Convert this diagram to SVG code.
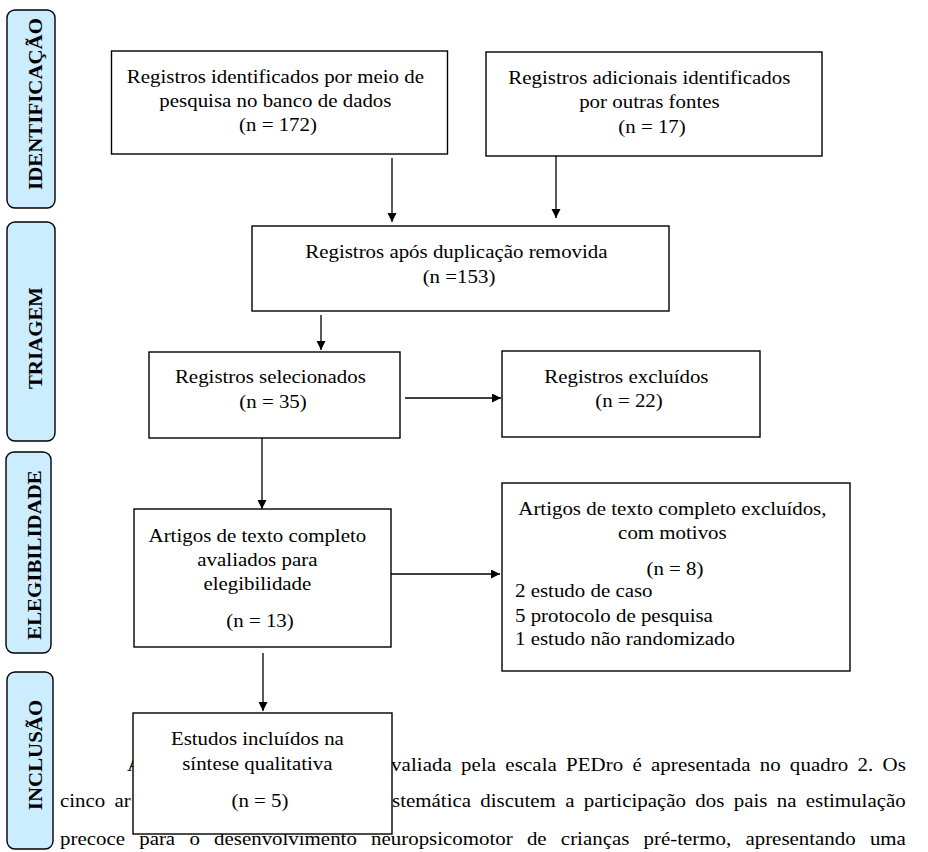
<svg xmlns="http://www.w3.org/2000/svg" width="928" height="852" viewBox="0 0 928 852">
<style>
  .box { fill: #ffffff; stroke: #000000; stroke-width: 1.4; }
  .lbl { fill: #CCECFF; stroke: #000000; stroke-width: 1.4; }
  .t { font-family: "Liberation Serif", "Times New Roman", serif; font-size: 19px; fill: #000000; }
  .c { text-anchor: middle; }
  .b { font-weight: bold; text-anchor: middle; }
  .edge { fill: none; stroke: #000000; stroke-width: 1.3; marker-end: url(#ah); }
</style>
<defs>
  <marker id="ah" markerUnits="userSpaceOnUse" markerWidth="10" markerHeight="10" refX="9" refY="4.5" orient="auto">
    <path d="M0,0 L9,4.5 L0,9 Z" fill="#000000"/>
  </marker>
</defs>
<rect width="928" height="852" fill="#ffffff"/>

<g id="labels">
  <g id="label-identificacao">
    <rect class="lbl" x="7" y="10" width="48" height="198" rx="8"/>
    <text class="t b" transform="translate(42 104) rotate(-90) scale(1.1 1)" x="0" y="0">IDENTIFICAÇÃO</text>
  </g>
  <g id="label-triagem">
    <rect class="lbl" x="7" y="222" width="48" height="219" rx="8"/>
    <text class="t b" transform="translate(42 338) rotate(-90) scale(1.1 1)" x="0" y="0">TRIAGEM</text>
  </g>
  <g id="label-elegibilidade">
    <rect class="lbl" x="6" y="452" width="45" height="201" rx="8"/>
    <text class="t b" transform="translate(41 555) rotate(-90) scale(1.1 1)" x="0" y="0">ELEGIBILIDADE</text>
  </g>
  <g id="label-inclusao">
    <rect class="lbl" x="7" y="672" width="46" height="177" rx="8"/>
    <text class="t b" transform="translate(42 755) rotate(-90) scale(1.1 1)" x="0" y="0">INCLUSÃO</text>
  </g>
</g>

<g id="body-text">
  <text class="t" transform="translate(127 0) scale(1.1 1)" x="0" y="771">A</text>
  <text class="t" transform="translate(391 0) scale(1.1 1)" x="0" y="771" style="word-spacing:3.5px" textLength="468" lengthAdjust="spacing">valiada pela escala PEDro é apresentada no quadro 2. Os</text>
  <text class="t" transform="translate(60 0) scale(1.1 1)" x="0" y="807" style="word-spacing:3.7px">cinco ar</text>
  <text class="t" transform="translate(392 0) scale(1.1 1)" x="0" y="807" style="word-spacing:3.7px" textLength="467" lengthAdjust="spacing">stemática discutem a participação dos pais na estimulação</text>
  <text class="t" transform="translate(60 0) scale(1.1 1)" x="0" y="845" style="word-spacing:8.2px" textLength="769" lengthAdjust="spacing">precoce para o desenvolvimento neuropsicomotor de crianças pré-termo, apresentando uma</text>
</g>

<g id="connectors">
  <path class="edge" d="M392,158 L392,222"/>
  <path class="edge" d="M556,156 L556,218"/>
  <path class="edge" d="M321,315 L321,350"/>
  <path class="edge" d="M405,398 L501,398"/>
  <path class="edge" d="M262,438 L262,509"/>
  <path class="edge" d="M391,574 L500,574"/>
  <path class="edge" d="M263,653 L263,711"/>
</g>

<g id="nodes">
  <g id="n-banco">
    <rect class="box" x="111.5" y="51" width="336" height="103"/>
    <text class="t c" transform="translate(278 0) scale(1.1 1)">
      <tspan x="0" y="83">Registros identificados por meio de</tspan>
      <tspan x="0" y="107">pesquisa no banco de dados</tspan>
      <tspan x="0" y="131.5">(n = 172)</tspan>
    </text>
  </g>
  <g id="n-outras">
    <rect class="box" x="486" y="52" width="336" height="104"/>
    <text class="t c" transform="translate(652 0) scale(1.1 1)">
      <tspan x="0" y="84">Registros adicionais identificados</tspan>
      <tspan x="0" y="108">por outras fontes</tspan>
      <tspan x="0" y="133">(n = 17)</tspan>
    </text>
  </g>
  <g id="n-duplicacao">
    <rect class="box" x="252" y="226" width="417" height="85"/>
    <text class="t c" transform="translate(459 0) scale(1.1 1)">
      <tspan x="0" y="258">Registros após duplicação removida</tspan>
      <tspan x="0" y="283">(n =153)</tspan>
    </text>
  </g>
  <g id="n-selecionados">
    <rect class="box" x="149" y="352" width="251" height="86"/>
    <text class="t c" transform="translate(273 0) scale(1.1 1)">
      <tspan x="0" y="383">Registros selecionados</tspan>
      <tspan x="0" y="408">(n = 35)</tspan>
    </text>
  </g>
  <g id="n-excluidos">
    <rect class="box" x="502" y="351" width="258" height="86"/>
    <text class="t c" transform="translate(629 0) scale(1.1 1)">
      <tspan x="0" y="383">Registros excluídos</tspan>
      <tspan x="0" y="407">(n = 22)</tspan>
    </text>
  </g>
  <g id="n-avaliados">
    <rect class="box" x="134" y="509" width="257" height="138"/>
    <text class="t c" transform="translate(260 0) scale(1.1 1)">
      <tspan x="0" y="542">Artigos de texto completo</tspan>
      <tspan x="0" y="566">avaliados para</tspan>
      <tspan x="0" y="590">elegibilidade</tspan>
      <tspan x="0" y="627">(n = 13)</tspan>
    </text>
  </g>
  <g id="n-texto-excluidos">
    <rect class="box" x="502" y="483" width="348" height="188"/>
    <text class="t c" transform="translate(675 0) scale(1.1 1)">
      <tspan x="0" y="515">Artigos de texto completo excluídos,</tspan>
      <tspan x="0" y="539">com motivos</tspan>
      <tspan x="0" y="575">(n = 8)</tspan>
    </text>
    <text class="t" transform="translate(515 0) scale(1.1 1)">
      <tspan x="0" y="597">2 estudo de caso</tspan>
      <tspan x="0" y="622">5 protocolo de pesquisa</tspan>
      <tspan x="0" y="645">1 estudo não randomizado</tspan>
    </text>
  </g>
  <g id="n-incluidos">
    <rect class="box" x="133" y="713" width="259" height="121"/>
    <text class="t c" transform="translate(260 0) scale(1.1 1)">
      <tspan x="0" y="745">Estudos incluídos na</tspan>
      <tspan x="0" y="770">síntese qualitativa</tspan>
      <tspan x="0" y="807">(n = 5)</tspan>
    </text>
  </g>
</g>
</svg>
